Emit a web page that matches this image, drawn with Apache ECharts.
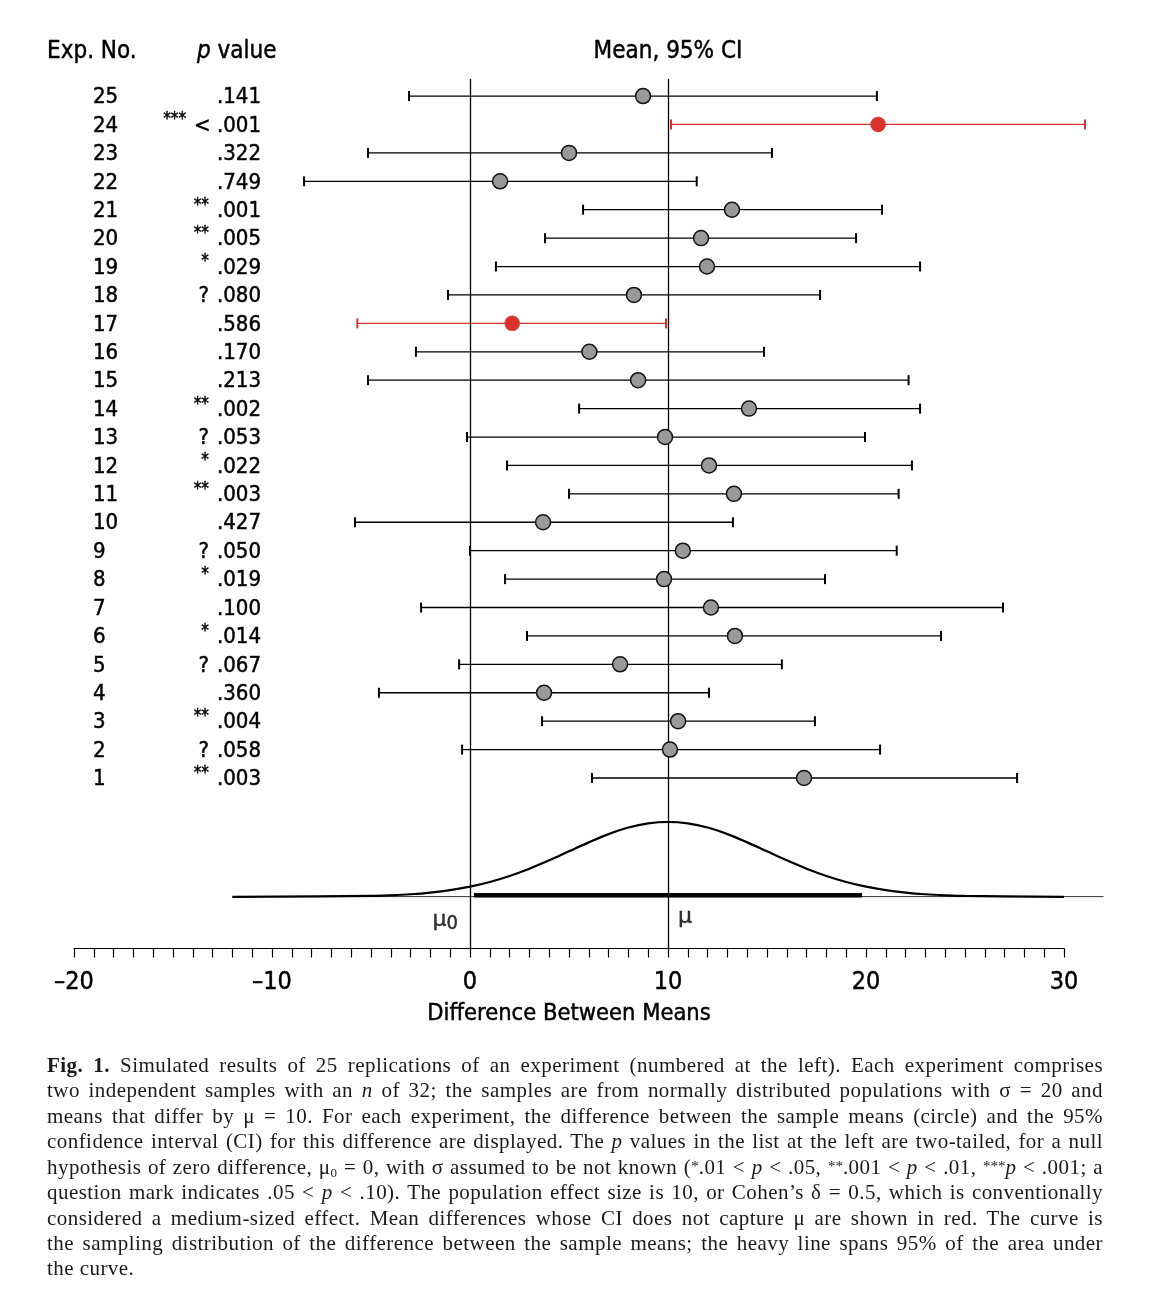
<!DOCTYPE html>
<html>
<head>
<meta charset="utf-8">
<script src="https://cdn.jsdelivr.net/npm/echarts@6/dist/echarts.min.js"></script>
<style>
  html, body { margin: 0; padding: 0; background: #fff; }
  #wrap { position: relative; width: 1152px; height: 1298px; }
  #chart { position: absolute; left: 0; top: 0; width: 1152px; height: 1298px; }
  #cap { position: absolute; left: 47px; top: 1053px; width: 1056px;
         font-family: 'Liberation Serif', 'DejaVu Serif', serif; font-size: 21px; letter-spacing: 0.45px;
         line-height: 25.3px; color: #1a1a1a; }
  #cap .ln { text-align: justify; text-align-last: justify; white-space: nowrap; }
  #cap .ln.last { text-align-last: left; }
  #cap sub { font-size: 13px; vertical-align: -3px; line-height: 0; }
  #cap .st { font-size: 15px; vertical-align: 3px; letter-spacing: 0; }
</style>
</head>
<body>
<div id="wrap">
  <div id="chart"></div>
  <div id="cap">
    <div class="ln"><b>Fig. 1.</b> Simulated results of 25 replications of an experiment (numbered at the left). Each experiment comprises</div>
    <div class="ln">two independent samples with an <i>n</i> of 32; the samples are from normally distributed populations with σ = 20 and</div>
    <div class="ln">means that differ by μ = 10. For each experiment, the difference between the sample means (circle) and the 95%</div>
    <div class="ln">confidence interval (CI) for this difference are displayed. The <i>p</i> values in the list at the left are two-tailed, for a null</div>
    <div class="ln">hypothesis of zero difference, μ<sub>0</sub> = 0, with σ assumed to be not known (<span class="st">*</span>.01 &lt; <i>p</i> &lt; .05, <span class="st">**</span>.001 &lt; <i>p</i> &lt; .01, <span class="st">***</span><i>p</i> &lt; .001; a</div>
    <div class="ln">question mark indicates .05 &lt; <i>p</i> &lt; .10). The population effect size is 10, or Cohen’s δ = 0.5, which is conventionally</div>
    <div class="ln">considered a medium-sized effect. Mean differences whose CI does not capture μ are shown in red. The curve is</div>
    <div class="ln">the sampling distribution of the difference between the sample means; the heavy line spans 95% of the area under</div>
    <div class="ln last">the curve.</div>
  </div>
</div>
<script>
// ---------------- data ----------------
const expNo    = [1, 2, 3, 4, 5, 6, 7, 8, 9, 10, 11, 12, 13, 14, 15, 16, 17, 18, 19, 20, 21, 22, 23, 24, 25];
const ciLow    = [6.16, -0.40, 3.64, -4.60, -0.55, 2.88, -2.47, 1.77, 0.00, -5.81, 5.00, 1.87, -0.15, 5.51, -5.15, -2.73, -5.69, -1.11, 1.31, 3.79, 5.71, -8.38, -5.15, 10.15, -3.08];
const means    = [16.87, 10.10, 10.51, 3.74, 7.58, 13.38, 12.17, 9.80, 10.75, 3.69, 13.33, 12.07, 9.85, 14.09, 8.49, 6.03, 2.13, 8.28, 11.97, 11.67, 13.23, 1.52, 5.00, 20.61, 8.74];
const ciHigh   = [27.63, 20.71, 17.42, 12.07, 15.75, 23.79, 26.92, 17.93, 21.55, 13.28, 21.65, 22.32, 19.95, 22.73, 22.15, 14.85, 9.90, 17.68, 22.73, 19.50, 20.81, 11.45, 15.25, 31.06, 20.55];
const sigMarks = ['**', '?', '**', '', '?', '*', '', '*', '?', '', '**', '*', '?', '**', '', '', '', '?', '*', '**', '**', '', '', '***', ''];
const pPrefix  = ['', '', '', '', '', '', '', '', '', '', '', '', '', '', '', '', '', '', '', '', '', '', '', '<', ''];
const pValues  = ['.003', '.058', '.004', '.360', '.067', '.014', '.100', '.019', '.050', '.427', '.003', '.022', '.053', '.002', '.213', '.170', '.586', '.080', '.029', '.005', '.001', '.749', '.322', '.001', '.141'];
const xTickLabels = [-20, -10, 0, 10, 20, 30];
const muNull = 0;
const muTrue = 10;
// sampling distribution curve (height read relative to peak ~79.8)
const curveX = [-12, -5, -4, -3, -2, -1, 0, 1, 2, 3, 4, 5, 6, 7, 8, 9, 10, 11, 12, 13, 14, 15, 16, 17, 18, 19, 20, 21, 22, 23, 24, 25, 30];
const curveY = [0, 0.9, 1.6, 2.7, 4.5, 7.1, 10.8, 15.8, 22.2, 29.9, 38.8, 48.4, 57.9, 66.7, 73.7, 78.2, 79.8, 78.2, 73.7, 66.7, 57.9, 48.4, 38.8, 29.9, 22.2, 15.8, 10.8, 7.1, 4.5, 2.7, 1.6, 0.9, 0];
const heavySpan = [0.2, 19.8];
const baselineSpan = [-12, 32];

// ---------------- chart ----------------
const SANS = "'Liberation Sans Narrow','DejaVu Sans Condensed','Arial Narrow',sans-serif";
const RED = '#d8322a';
const GRAY = '#999999';
const BOLDEN = { textBorderColor: '#000', textBorderWidth: 0.45 };
const isMiss = i => ciHigh[i] < muTrue || ciLow[i] > muTrue;

const chart = echarts.init(document.getElementById('chart'), null, { renderer: 'canvas' });

function renderCI(params, api) {
  const y = api.value(0), lo = api.value(1), hi = api.value(2);
  const p1 = api.coord([lo, y]), p2 = api.coord([hi, y]);
  const c = isMiss(params.dataIndex) ? RED : '#000';
  const h = 5;
  return {
    type: 'group',
    children: [
      { type: 'line', shape: { x1: p1[0], y1: p1[1], x2: p2[0], y2: p2[1] }, style: { stroke: c, lineWidth: 1.3 } },
      { type: 'line', shape: { x1: p1[0], y1: p1[1] - h, x2: p1[0], y2: p1[1] + h }, style: { stroke: c, lineWidth: 2 } },
      { type: 'line', shape: { x1: p2[0], y1: p2[1] - h, x2: p2[0], y2: p2[1] + h }, style: { stroke: c, lineWidth: 2 } }
    ]
  };
}

const rowIdx = v => (Number.isInteger(v) && v >= 1 && v <= expNo.length) ? expNo.indexOf(v) : -1;
const hdr = Object.assign({ fontFamily: SANS, fontSize: 24, fontWeight: 'normal', color: '#000' }, BOLDEN);
const rowTxt = Object.assign({ fontFamily: SANS, fontSize: 22, color: '#000', padding: [3, 0, 0, 0] }, BOLDEN);

const option = {
  animation: false,
  backgroundColor: '#fff',
  textStyle: { fontFamily: SANS, color: '#000' },
  title: [
    { text: 'Exp. No.', left: 47, top: 40, padding: 0, textStyle: hdr },
    { text: '{i|p} value', left: 197, top: 40, padding: 0,
      textStyle: Object.assign({}, hdr, {
        rich: { i: Object.assign({}, hdr, { fontStyle: 'italic' }) } }) },
    { text: 'Mean, 95% CI', left: 668, top: 40, padding: 0, textAlign: 'center', textStyle: hdr }
  ],
  grid: [
    { left: 74, width: 1029.6, top: 79, height: 869.5 },
    { left: 74, width: 1029.6, top: 821.8, height: 75 },
    { left: 74, width: 990, top: 940, height: 8.5 }
  ],
  xAxis: [
    { type: 'value', gridIndex: 0, min: -20, max: 32, show: false },
    { type: 'value', gridIndex: 1, min: -20, max: 32, show: false },
    { type: 'value', gridIndex: 2, min: xTickLabels[0], max: xTickLabels[xTickLabels.length - 1], interval: 10,
      position: 'bottom',
      axisLine: { show: true, lineStyle: { color: '#000', width: 1.2 } },
      axisTick: { show: true, inside: false, length: 9, lineStyle: { color: '#000', width: 1.2 } },
      minorTick: { show: true, splitNumber: 10, length: 9, lineStyle: { color: '#000', width: 1.2 } },
      splitLine: { show: false },
      axisLabel: Object.assign({ show: true, margin: 21, fontSize: 25, color: '#000', fontFamily: SANS,
        formatter: v => (v < 0 ? '\u2013' + Math.abs(v) : String(v)) }, BOLDEN),
      name: 'Difference Between Means', nameLocation: 'middle', nameGap: 53,
      nameTextStyle: Object.assign({ fontSize: 23.5, color: '#000', fontFamily: SANS }, BOLDEN)
    }
  ],
  yAxis: [
    { type: 'value', gridIndex: 0, min: -5, max: 25.6, interval: 1,
      axisLine: { show: false }, axisTick: { show: false }, splitLine: { show: false },
      axisLabel: { show: true, align: 'left', margin: -19, fontSize: 22, color: '#000', fontFamily: SANS,
        formatter: v => { const i = rowIdx(v); return i < 0 ? '' : '{n|' + expNo[i] + '}'; },
        rich: { n: rowTxt } } },
    { type: 'value', gridIndex: 0, min: -5, max: 25.6, interval: 1, position: 'left',
      axisLine: { show: false }, axisTick: { show: false }, splitLine: { show: false },
      axisLabel: { show: true, align: 'right', margin: -187, fontSize: 22, color: '#000', fontFamily: SANS,
        formatter: v => {
          const i = rowIdx(v); if (i < 0) return '';
          const m = sigMarks[i];
          const mark = m === '?' ? '{q|?}' : (m ? '{s|' + m + '}' : '');
          return mark + (pPrefix[i] ? '{v|' + pPrefix[i] + ' }' : '') + '{v|' + pValues[i] + '}';
        },
        rich: {
          s: Object.assign({ fontSize: 17, fontFamily: SANS, color: '#000', padding: [0, 8, 9, 0] }, BOLDEN),
          q: Object.assign({}, rowTxt, { padding: [3, 8, 0, 0] }),
          v: rowTxt
        } } },
    { type: 'value', gridIndex: 1, min: 0, max: 79.8, show: false },
    { type: 'value', gridIndex: 2, min: 0, max: 1, show: false }
  ],
  series: [
    {
      type: 'custom', xAxisIndex: 0, yAxisIndex: 0, z: 2,
      renderItem: renderCI,
      encode: { x: [1, 2], y: 0 },
      data: expNo.map((e, i) => [e, ciLow[i], ciHigh[i]]),
      markLine: {
        silent: true, symbol: 'none', animation: false,
        label: { show: false },
        lineStyle: { color: '#000', width: 1.3, type: 'solid' },
        data: [{ xAxis: muNull }, { xAxis: muTrue }]
      }
    },
    {
      type: 'scatter', xAxisIndex: 0, yAxisIndex: 0, z: 5,
      symbol: 'circle', symbolSize: 15,
      data: expNo.map((e, i) => ({
        value: [means[i], e],
        itemStyle: isMiss(i)
          ? { color: RED, borderColor: RED, borderWidth: 0.5, opacity: 1 }
          : { color: GRAY, borderColor: '#111', borderWidth: 1.5, opacity: 1 }
      }))
    },
    {
      type: 'line', xAxisIndex: 1, yAxisIndex: 2, z: 3,
      symbol: 'none', silent: true,
      lineStyle: { color: '#000', width: 1 },
      data: baselineSpan.map(x => [x, 0])
    },
    {
      type: 'line', xAxisIndex: 1, yAxisIndex: 2, z: 4,
      symbol: 'none', silent: true, smooth: 0.35,
      lineStyle: { color: '#000', width: 2.2 },
      data: curveX.map((x, i) => [x, curveY[i]])
    },
    {
      type: 'line', xAxisIndex: 1, yAxisIndex: 2, z: 4,
      symbol: 'none', silent: true,
      lineStyle: { color: '#000', width: 4.5 },
      data: heavySpan.map(x => [x, 1.6])
    },
    {
      type: 'scatter', xAxisIndex: 1, yAxisIndex: 2, z: 6,
      symbolSize: 0, silent: true,
      data: [
        { value: [muNull, 0], label: { show: true, position: 'bottom', distance: 9, align: 'right', offset: [-12, 0],
            formatter: '{m|\u03bc}{s|0}',
            rich: { m: Object.assign({ fontFamily: 'DejaVu Sans', fontSize: 22, color: '#000' }, BOLDEN),
                    s: Object.assign({ fontFamily: SANS, fontSize: 20, color: '#000', padding: [8, 0, 0, 0] }, BOLDEN) } } },
        { value: [muTrue, 0], label: { show: true, position: 'bottom', distance: 9, align: 'left', offset: [10, 0],
            formatter: '{m|\u03bc}',
            rich: { m: Object.assign({ fontFamily: 'DejaVu Sans', fontSize: 22, color: '#000' }, BOLDEN) } } }
      ]
    },
    {
      type: 'line', xAxisIndex: 2, yAxisIndex: 3, symbol: 'none', silent: true,
      lineStyle: { opacity: 0 }, data: []
    }
  ]
};

chart.setOption(option);
</script>
</body>
</html>
